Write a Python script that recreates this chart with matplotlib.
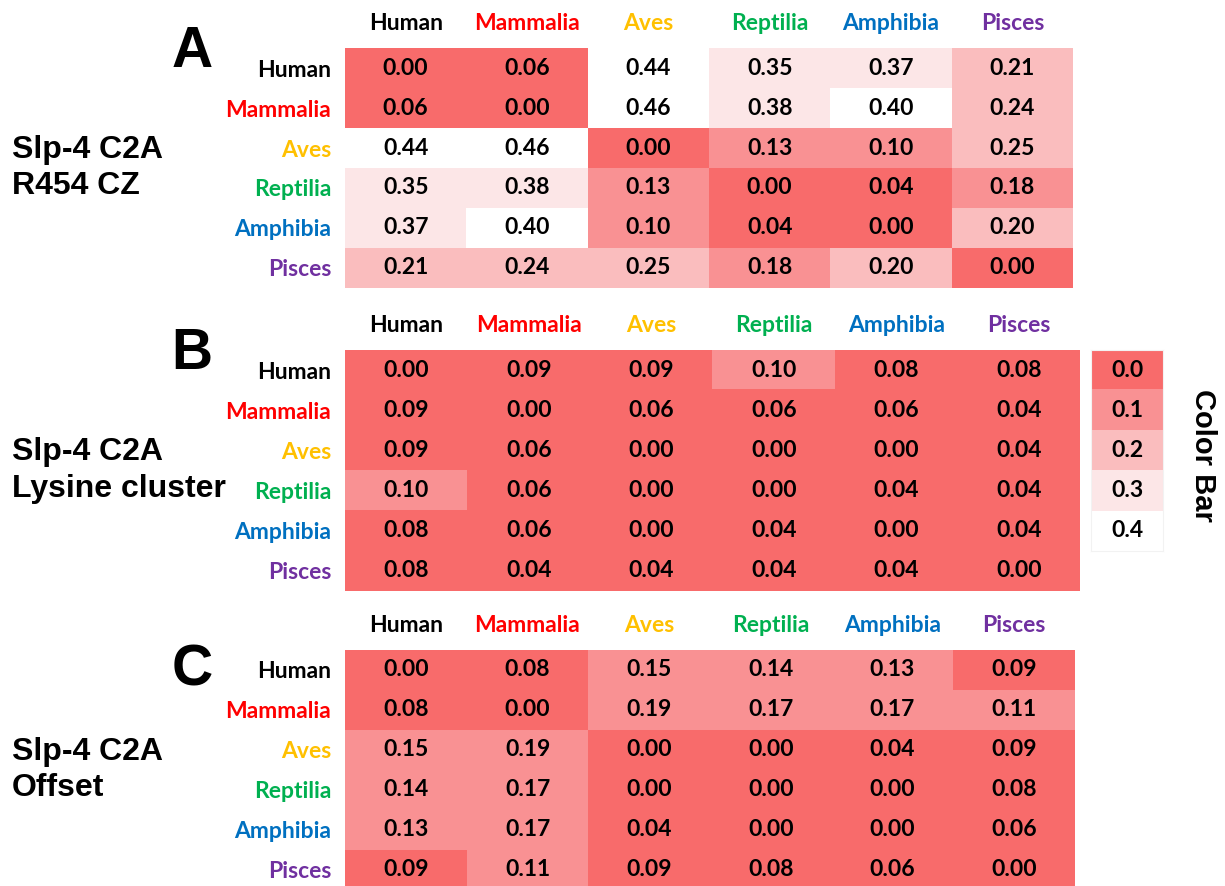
import numpy as np
import matplotlib
matplotlib.use("Agg")
import matplotlib.pyplot as plt
from matplotlib.colors import ListedColormap, BoundaryNorm

# taxa and their label colours
taxa = ["Human", "Mammalia", "Aves", "Reptilia", "Amphibia", "Pisces"]
taxa_colors = ["#000000", "#FF0000", "#FFC000", "#00B050", "#0070C0", "#7030A0"]

# distance matrices
r454_cz = [
    [0.00, 0.06, 0.44, 0.35, 0.37, 0.21],
    [0.06, 0.00, 0.46, 0.38, 0.40, 0.24],
    [0.44, 0.46, 0.00, 0.13, 0.10, 0.25],
    [0.35, 0.38, 0.13, 0.00, 0.04, 0.18],
    [0.37, 0.40, 0.10, 0.04, 0.00, 0.20],
    [0.21, 0.24, 0.25, 0.18, 0.20, 0.00],
]
lysine_cluster = [
    [0.00, 0.09, 0.09, 0.10, 0.08, 0.08],
    [0.09, 0.00, 0.06, 0.06, 0.06, 0.04],
    [0.09, 0.06, 0.00, 0.00, 0.00, 0.04],
    [0.10, 0.06, 0.00, 0.00, 0.04, 0.04],
    [0.08, 0.06, 0.00, 0.04, 0.00, 0.04],
    [0.08, 0.04, 0.04, 0.04, 0.04, 0.00],
]
offset = [
    [0.00, 0.08, 0.15, 0.14, 0.13, 0.09],
    [0.08, 0.00, 0.19, 0.17, 0.17, 0.11],
    [0.15, 0.19, 0.00, 0.00, 0.04, 0.09],
    [0.14, 0.17, 0.00, 0.00, 0.00, 0.08],
    [0.13, 0.17, 0.04, 0.00, 0.00, 0.06],
    [0.09, 0.11, 0.09, 0.08, 0.06, 0.00],
]
bar_levels = [0.0, 0.1, 0.2, 0.3, 0.4]

bin_colors = ["#F86B6B", "#F99193", "#FABDBE", "#FCE6E7", "#FFFFFF"]
cmap = ListedColormap(bin_colors)
norm = BoundaryNorm([0.0, 0.1, 0.2, 0.3, 0.4, 1.0], cmap.N)

lab_font = "Lato"
big_font = "Liberation Sans"
fs = 16.5

W, H = 1225, 886
fig = plt.figure(figsize=(W / 100, H / 100), dpi=100)

# (letter, title, data, axes rect in pixels [left, top, width, height], letter centre y px)
panels = [
    ("A", "Slp-4 C2A\nR454 CZ", r454_cz, [345, 48, 728, 240], 52),
    ("B", "Slp-4 C2A\nLysine cluster", lysine_cluster, [345, 350, 735, 241], 354),
    ("C", "Slp-4 C2A\nOffset", offset, [345, 650, 730, 240], 671),
]


def px_rect(left, top, w, h):
    return [left / W, 1 - (top + h) / H, w / W, h / H]


for letter, title, data, rect, letter_y in panels:
    ax = fig.add_axes(px_rect(*rect))
    arr = np.array(data)
    ax.imshow(arr, cmap=cmap, norm=norm, aspect="auto", interpolation="nearest")
    for i in range(arr.shape[0]):
        for j in range(arr.shape[1]):
            ax.text(j, i, f"{arr[i, j]:.2f}", ha="center", va="center",
                    fontsize=fs, fontweight="bold", family=lab_font)
    ax.set_xticks(range(len(taxa)))
    ax.set_xticklabels(taxa)
    ax.set_yticks(range(len(taxa)))
    ax.set_yticklabels(taxa)
    ax.xaxis.tick_top()
    ax.tick_params(axis="x", length=0, pad=10)
    ax.tick_params(axis="y", length=0, pad=10)
    for lbl, c in zip(ax.get_xticklabels() + ax.get_yticklabels(), taxa_colors * 2):
        lbl.set_color(c)
        lbl.set_fontweight("bold")
        lbl.set_fontsize(fs)
        lbl.set_family(lab_font)
    for s in ax.spines.values():
        s.set_visible(False)

    fig.text(192 / W, 1 - letter_y / H, letter, ha="center", va="center",
             fontsize=41, fontweight="bold", family=big_font)
    fig.text(12 / W, 1 - (rect[1] + rect[3] / 2) / H, title, ha="left", va="center",
             fontsize=23, fontweight="bold", family=big_font, linespacing=1.3)

# discrete colour bar
cax = fig.add_axes(px_rect(1091, 350, 72, 201))
cax.imshow(np.array(bar_levels).reshape(-1, 1), cmap=cmap, norm=norm,
           aspect="auto", interpolation="nearest")
for i, v in enumerate(bar_levels):
    cax.text(0, i, f"{v:.1f}", ha="center", va="center",
             fontsize=fs, fontweight="bold", family=lab_font)
cax.set_xticks([])
cax.set_yticks([])
for s in cax.spines.values():
    s.set_color("#F2F2F2")
    s.set_linewidth(0.8)
fig.text(1203 / W, 1 - 455 / H, "Color Bar", rotation=-90, ha="center", va="center",
         fontsize=21, fontweight="bold", family=big_font)

fig.savefig("out.png", dpi=100)
